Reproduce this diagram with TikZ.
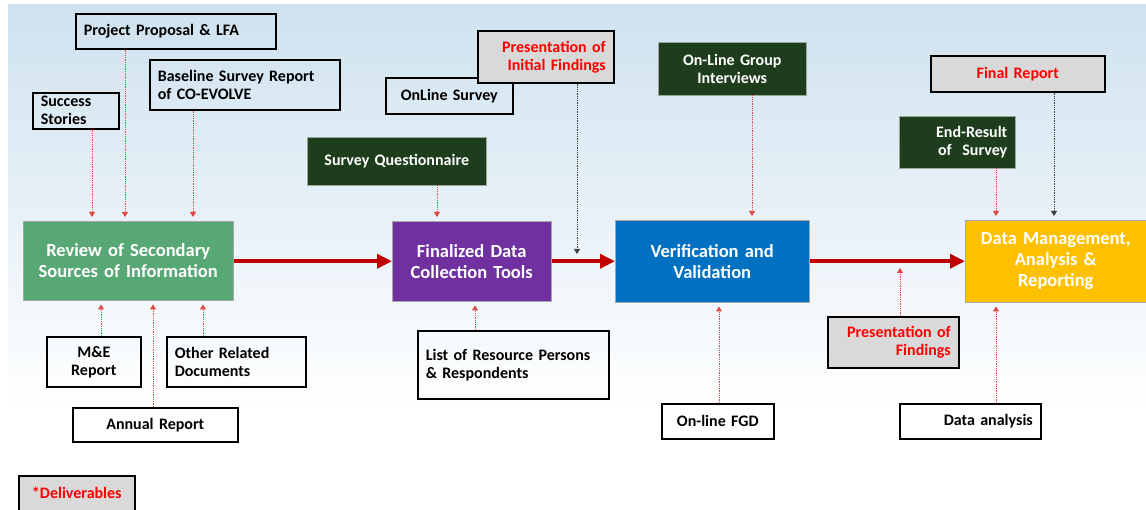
\documentclass[tikz,border=0pt]{standalone}
\usepackage{fontspec}
\setmainfont{Carlito}
\usetikzlibrary{arrows.meta,positioning}

\definecolor{bgtop}{HTML}{CFE2EF}
\definecolor{bgmid}{HTML}{DFEFE6}
\definecolor{reviewgreen}{HTML}{57A874}
\definecolor{toolpurple}{HTML}{7030A0}
\definecolor{verifblue}{HTML}{0070C0}
\definecolor{dmgold}{HTML}{FFC000}
\definecolor{tooldark}{HTML}{1E3D1D}
\definecolor{delivgray}{HTML}{D9D9D9}
\definecolor{flowred}{HTML}{C00000}
\definecolor{feedred}{HTML}{E04848}

\begin{document}
\begin{tikzpicture}[x=1pt,y=-1pt]
    % inputs and deliverables of each stage
    \tikzset{box/.style = {shape=rectangle,anchor=north west,inner xsep=8pt,inner ysep=2pt,
        font=\bfseries\fontsize{16}{18}\selectfont}}
    \tikzset{doc/.style = {box,draw,line width=1.6pt}}
    \tikzset{deliv/.style = {doc,fill=delivgray,text=red}}
    \tikzset{tool/.style = {box,fill=tooldark,text=white,draw=white!55!tooldark,line width=0.5pt}}
    \tikzset{stage/.style = {box,inner xsep=2pt,draw=black!35,line width=0.5pt,text=white,
        align=center,font=\bfseries\fontsize{18.5}{21}\selectfont}}
    \tikzset{feed/.style = {densely dotted,feedred,line width=0.8pt,shorten >=4pt,
        -{Triangle[length=5pt,width=6pt]}}}
    \tikzset{back/.style = {feed,black!75}}
    \tikzset{inflow/.style = {flowred,line width=3.5pt,{Triangle[length=15pt,width=14pt]}-}}

    \useasboundingbox (0,0) rectangle (1146,510);
    \shade[top color=bgtop,middle color=bgmid,bottom color=white] (8,5) rectangle (1146,410);

    % review stage
    \node[stage,fill=reviewgreen,text width=206,minimum height=79] (review) at (23,221)
       {Review of Secondary\\Sources of Information};
    \node[doc,text width=184,minimum height=35,align=left] (proposal) at (75,13)
       {Project Proposal \& LFA};
    \node[doc,text width=174,minimum height=50,align=left] (baseline) at (149,59)
       {Baseline Survey Report\\of CO-EVOLVE};
    \node[doc,text width=70,minimum height=36,align=left] (success) at (32,92)
       {Success\\Stories};
    \node[doc,text width=78,minimum height=50,align=center] (me) at (46,336)
       {M\&E\\Report};
    \node[doc,text width=123,minimum height=50,align=left] (other) at (166,336)
       {Other Related\\Documents};
    \node[doc,text width=149,minimum height=34,align=center] (annual) at (72,407)
       {Annual Report};
    \node[deliv,text width=100,minimum height=35,align=center] (legend) at (18,475)
       {*Deliverables};

    \draw[feed] (success.south -| 92,0) -- (review.north -| 92,0);
    \draw[feed] (proposal.south -| 125,0) -- (review.north -| 125,0);
    \draw[feed] (baseline.south -| 193,0) -- (review.north -| 193,0);
    \draw[feed] (me.north -| 101,0) -- (review.south -| 101,0);
    \draw[feed] (annual.north -| 153,0) -- (review.south -| 153,0);
    \draw[feed] (other.north -| 203,0) -- (review.south -| 203,0);

    % data collection tools
    \node[stage,fill=toolpurple,text width=155,minimum height=80] (tools) at (392,221)
       {Finalized Data\\Collection Tools}
       edge [inflow] (review.east |- tools.west);
    \node[doc,text width=111,minimum height=36,align=center] (online) at (385,77)
       {OnLine Survey};
    \node[deliv,text width=120,minimum height=52,align=right] (initial) at (477,30)
       {Presentation of\\Initial Findings};
    \node[tool,text width=163,minimum height=48,align=center] (questionnaire) at (307,137)
       {Survey Questionnaire};
    \node[doc,text width=175,minimum height=68,align=left] (resource) at (417,330)
       {List of Resource Persons\\\& Respondents};
    \coordinate (initialend) at (577,254);

    \draw[feed] (questionnaire.south -| 437,0) -- (tools.north -| 437,0);
    \draw[feed] (resource.north -| 475,0) -- (tools.south -| 475,0);
    \draw[back,shorten >=0pt] (initial.south -| 577,0) -- (initialend);

    % verification
    \node[stage,fill=verifblue,text width=190,minimum height=82] (verif) at (615,220)
       {Verification and\\Validation}
       edge [inflow] (tools.east |- verif.west);
    \node[tool,text width=132,minimum height=53,align=center] (interviews) at (658,42)
       {On-Line Group\\Interviews};
    \node[doc,text width=96,minimum height=35,align=center] (fgd) at (661,403)
       {On-line FGD};

    \draw[feed] (interviews.south -| 752,0) -- (verif.north -| 752,0);
    \draw[feed] (fgd.north -| 719,0) -- (verif.south -| 719,0);

    % data management and reporting
    \node[stage,fill=dmgold,text width=177,minimum height=82] (dm) at (965,220)
       {Data Management,\\Analysis \&\\Reporting}
       edge [inflow] (verif.east |- dm.west);
    \node[deliv,text width=115,minimum height=51,align=right] (findings) at (827,316)
       {Presentation of\\Findings};
    \node[deliv,text width=158,minimum height=36,align=center] (finalreport) at (930,55)
       {Final Report};
    \node[tool,text width=100,minimum height=52,align=right] (endresult) at (899,116)
       {End-Result\\of~ Survey};
    \node[doc,text width=125,minimum height=35,align=right] (analysis) at (899,403)
       {Data analysis};
    \coordinate (findingsend) at (900,268);

    \draw[feed,shorten >=0pt] (findings.north -| 900,0) -- (findingsend);
    \draw[feed] (endresult.south -| 996,0) -- (dm.north -| 996,0);
    \draw[back] (finalreport.south -| 1054,0) -- (dm.north -| 1054,0);
    \draw[feed] (analysis.north -| 996,0) -- (dm.south -| 996,0);
\end{tikzpicture}
\end{document}
